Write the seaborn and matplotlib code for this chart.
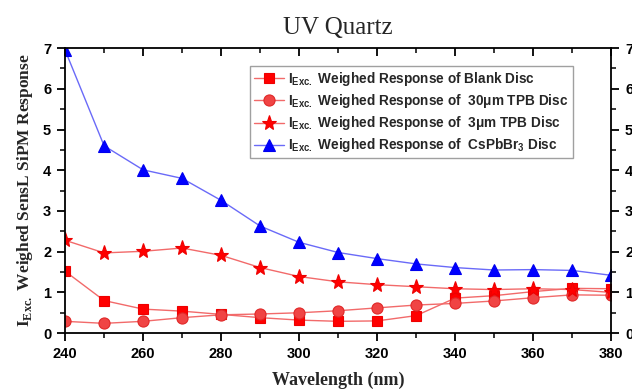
import matplotlib
matplotlib.use("Agg")
import matplotlib.pyplot as plt
from matplotlib.ticker import MultipleLocator
import seaborn as sns
import pandas as pd

# Wavelength grid (nm)
wavelength = [240, 250, 260, 270, 280, 290, 300, 310, 320, 330, 340, 350, 360, 370, 380]

# Excitation-weighed SiPM response for each disc
blank_disc = [1.52, 0.80, 0.59, 0.54, 0.46, 0.38, 0.32, 0.29, 0.30, 0.43, 0.86, 0.92, 1.02, 1.10, 1.09]
tpb_30um = [0.29, 0.24, 0.29, 0.38, 0.45, 0.47, 0.50, 0.55, 0.62, 0.69, 0.73, 0.79, 0.87, 0.94, 0.93]
tpb_3um = [2.28, 1.97, 2.01, 2.09, 1.91, 1.61, 1.39, 1.26, 1.19, 1.14, 1.09, 1.07, 1.09, 1.07, 1.00]
cspbbr3 = [6.95, 4.60, 4.01, 3.80, 3.26, 2.63, 2.23, 1.98, 1.83, 1.70, 1.61, 1.55, 1.56, 1.54, 1.42]

series_labels = [
    r"$\mathsf{I}_{\mathsf{Exc.}}$ Weighed Response of Blank Disc",
    r"$\mathsf{I}_{\mathsf{Exc.}}$ Weighed Response of  30μm TPB Disc",
    r"$\mathsf{I}_{\mathsf{Exc.}}$ Weighed Response of  3μm TPB Disc",
    r"$\mathsf{I}_{\mathsf{Exc.}}$ Weighed Response of  CsPbBr$_{\mathsf{3}}$ Disc",
]

sns.set_theme(style="ticks")
plt.rcParams["font.family"] = ["Liberation Sans", "DejaVu Sans"]
plt.rcParams["font.weight"] = "bold"
plt.rcParams["mathtext.fontset"] = "custom"
plt.rcParams["mathtext.sf"] = "Liberation Sans:bold"
plt.rcParams["mathtext.rm"] = "Liberation Serif:bold"
plt.rcParams["mathtext.bf"] = "Liberation Sans:bold"

df = pd.DataFrame({
    "wavelength": wavelength * 4,
    "response": blank_disc + tpb_30um + tpb_3um + cspbbr3,
    "series": sum([[lab] * len(wavelength) for lab in series_labels], []),
})

fig = plt.figure(figsize=(6.32, 3.91), dpi=100)
ax = fig.add_axes([0.103, 0.148, 0.864, 0.729])

styles = [
    dict(marker="s", line="#f26a6a", face="#ff0000", edge="#ee0000", ms=7),
    dict(marker="o", line="#f26a6a", face="#f04444", edge="#e02828", ms=8),
    dict(marker="*", line="#f26a6a", face="#ff0000", edge="#ee0000", ms=11),
    dict(marker="^", line="#6a6af8", face="#0000ff", edge="#0000ee", ms=9),
]

for lab, st in zip(series_labels, styles):
    sub = df[df["series"] == lab]
    sns.lineplot(data=sub, x="wavelength", y="response", ax=ax, label=lab,
                 color=st["line"], lw=1.0, marker=st["marker"], ms=st["ms"],
                 markerfacecolor=st["face"], markeredgecolor=st["edge"],
                 markeredgewidth=0.8)

ax.set_xlim(240, 380)
ax.set_ylim(0, 7)
ax.xaxis.set_major_locator(MultipleLocator(20))
ax.xaxis.set_minor_locator(MultipleLocator(10))
ax.yaxis.set_major_locator(MultipleLocator(1))
ax.yaxis.set_minor_locator(MultipleLocator(0.5))

for side in ["left", "right", "top", "bottom"]:
    ax.spines[side].set_visible(True)
    ax.spines[side].set_linewidth(1.3)
    ax.spines[side].set_color("black")

ax.tick_params(axis="both", which="major", direction="out", length=6, width=1.3,
               labelsize=10.5, colors="black", pad=4)
ax.tick_params(axis="both", which="minor", direction="out", length=3.5, width=1.3)
ax.tick_params(axis="y", which="both", right=True, labelright=True)
ax.tick_params(axis="x", which="both", top=True)

# top ticks point into the plot
for t in ax.xaxis.get_major_ticks() + ax.xaxis.get_minor_ticks():
    t.tick2line.set_marker(matplotlib.lines.TICKDOWN)

for lbl in ax.get_xticklabels() + ax.get_yticklabels():
    lbl.set_fontweight("bold")
for lbl in ax.yaxis.get_ticklabels(which="major"):
    lbl.set_fontweight("bold")

ax.set_xlabel("Wavelength (nm)", family="Liberation Serif", fontweight="bold",
              fontsize=13, labelpad=8)
ax.set_ylabel(r"$\mathrm{I}_{\mathrm{Exc.}}$ Weighed SensL SiPM Response",
              family="Liberation Serif", fontweight="bold", fontsize=12.5, labelpad=6)
ax.set_title("UV Quartz", family="Liberation Serif", fontweight="normal",
             fontsize=18, pad=10)

leg = ax.legend(loc="upper right", bbox_to_anchor=(0.93, 0.937), borderaxespad=0,
                frameon=True, fancybox=False, fontsize=9.8, handlelength=2.2,
                handletextpad=0.3, labelspacing=0.3, borderpad=0.3)
leg.get_frame().set_edgecolor("#888888")
leg.get_frame().set_linewidth(1.0)
for txt in leg.get_texts():
    txt.set_fontweight("bold")

fig.savefig("out.png", dpi=100)
